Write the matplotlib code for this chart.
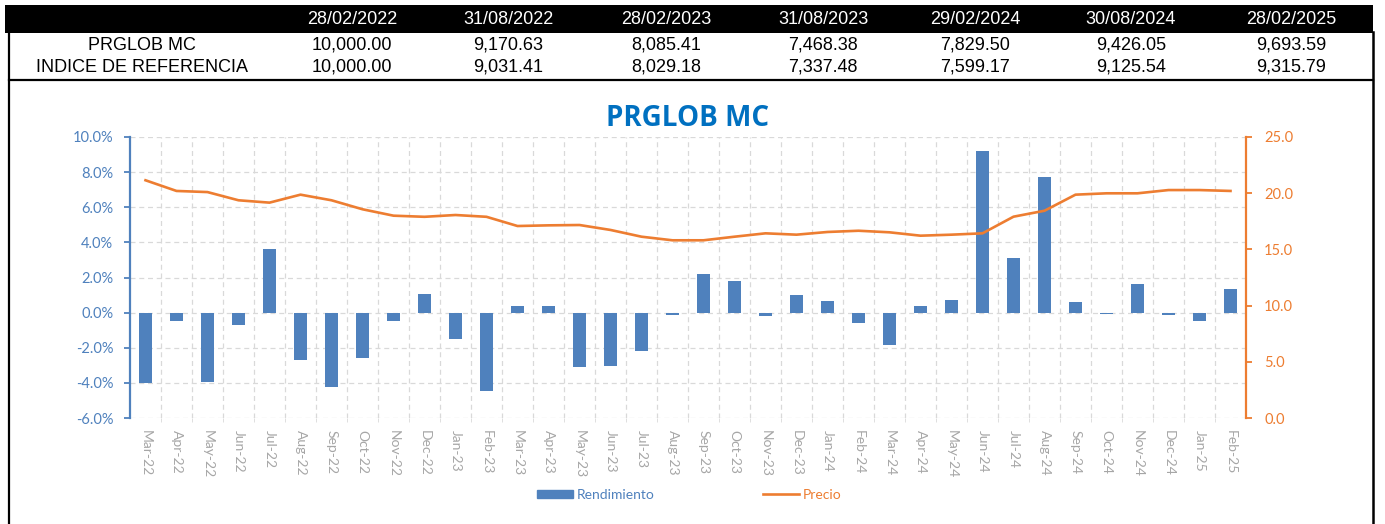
import numpy as np
import matplotlib
matplotlib.use("Agg")
import matplotlib.pyplot as plt
from matplotlib import font_manager
from matplotlib.patches import Rectangle, Patch
from matplotlib.lines import Line2D
from matplotlib.ticker import FuncFormatter, FixedLocator

# ---------------- data ----------------
table_dates = ["28/02/2022", "31/08/2022", "28/02/2023", "31/08/2023",
               "29/02/2024", "30/08/2024", "28/02/2025"]
table_labels = ["PRGLOB MC", "INDICE DE REFERENCIA"]
prglob_values = ["10,000.00", "9,170.63", "8,085.41", "7,468.38",
                 "7,829.50", "9,426.05", "9,693.59"]
indice_values = ["10,000.00", "9,031.41", "8,029.18", "7,337.48",
                 "7,599.17", "9,125.54", "9,315.79"]

months = ["Mar-22", "Apr-22", "May-22", "Jun-22", "Jul-22", "Aug-22", "Sep-22",
          "Oct-22", "Nov-22", "Dec-22", "Jan-23", "Feb-23", "Mar-23", "Apr-23",
          "May-23", "Jun-23", "Jul-23", "Aug-23", "Sep-23", "Oct-23", "Nov-23",
          "Dec-23", "Jan-24", "Feb-24", "Mar-24", "Apr-24", "May-24", "Jun-24",
          "Jul-24", "Aug-24", "Sep-24", "Oct-24", "Nov-24", "Dec-24", "Jan-25",
          "Feb-25"]
rendimiento = [-4.03, -0.48, -3.97, -0.69, 3.64, -2.68, -4.22, -2.57, -0.48,
               1.04, -1.49, -4.45, 0.40, 0.40, -3.09, -3.02, -2.20, -0.13,
               2.18, 1.78, -0.21, 0.98, 0.64, -0.60, -1.84, 0.40, 0.72, 9.21,
               3.13, 7.73, 0.59, -0.06, 1.65, -0.13, -0.47, 1.36]
precio = [21.15, 20.20, 20.10, 19.37, 19.16, 19.87, 19.37, 18.57, 18.00,
          17.90, 18.06, 17.90, 17.08, 17.14, 17.17, 16.73, 16.13, 15.81,
          15.81, 16.13, 16.43, 16.31, 16.55, 16.66, 16.52, 16.22, 16.31,
          16.43, 17.91, 18.44, 19.87, 19.99, 19.99, 20.28, 20.28, 20.20]

title = "PRGLOB MC"
series_names = ["Rendimiento", "Precio"]

# ---------------- style ----------------
BLUE = "#4F81BD"
ORANGE = "#ED7D31"
TITLE_BLUE = "#0070C0"
GRID = "#D9D9D9"
XLAB = "#A6A6A6"
CHART_FONT = ["Lato", "DejaVu Sans"]

installed = {f.name for f in font_manager.fontManager.ttflist}
if "Liberation Sans Narrow" in installed:
    tfont = dict(family=["Liberation Sans Narrow", "DejaVu Sans"], fontsize=15.5)
else:
    tfont = dict(family=["Liberation Sans", "DejaVu Sans"], fontsize=13)

W, H = 1385, 524
fig = plt.figure(figsize=(W / 100, H / 100), dpi=100)
fig.patch.set_facecolor("white")

# background overlay in pixel coordinates (table + frames)
bg = fig.add_axes([0, 0, 1, 1], zorder=0)
bg.set_xlim(0, W)
bg.set_ylim(H, 0)
bg.axis("off")

# header row
bg.add_patch(Rectangle((5, 5), 1368, 27.5, facecolor="black", edgecolor="black", lw=0))
col_x = [352, 508, 666, 823, 975, 1131, 1291]
label_x = 142
for cx, d in zip(col_x, table_dates):
    bg.text(cx, 20, d, color="white", ha="center", va="center", **tfont)
for ry, lab, vals in zip([45.5, 67.5], table_labels, [prglob_values, indice_values]):
    bg.text(label_x, ry, lab, color="black", ha="center", va="center", **tfont)
    for cx, v in zip(col_x, vals):
        bg.text(cx, ry, v, color="black", ha="center", va="center", **tfont)

# frames
bg.plot([9, 9], [32, H], color="black", lw=1.6)
bg.plot([1373, 1373], [32, H], color="black", lw=1.8)
bg.plot([9, 1373], [79.5, 79.5], color="black", lw=1.6)

# ---------------- chart ----------------
left, right, top, bottom = 130, 1246, 137, 418
ax = fig.add_axes([left / W, 1 - bottom / H, (right - left) / W, (bottom - top) / H], zorder=1)
ax.patch.set_alpha(0)
x = np.arange(len(months))
ax.bar(x, rendimiento, width=0.42, color=BLUE, zorder=2)
ax.set_xlim(-0.5, len(months) - 0.5)
ax.set_ylim(-6, 10)
ax.set_yticks(np.arange(-6, 10.01, 2))
ax.yaxis.set_major_formatter(FuncFormatter(lambda v, p: f"{v:.1f}%"))
ax.set_xticks(x)
ax.set_xticklabels(months, rotation=270, color=XLAB, fontsize=10, family=CHART_FONT)
ax.xaxis.set_minor_locator(FixedLocator(np.arange(0.5, len(months) - 0.5, 1)))
ax.tick_params(axis="x", which="major", length=0, pad=9)
ax.tick_params(axis="x", which="minor", length=3, color=GRID)
ax.tick_params(axis="y", colors=BLUE, labelcolor=BLUE, length=4, width=1.3,
               labelsize=10.5, pad=8)
for lab in ax.get_yticklabels():
    lab.set_family(CHART_FONT)
ax.set_axisbelow(True)
ax.grid(axis="y", which="major", color=GRID, lw=0.9, linestyle=(0, (4, 3)))
ax.grid(axis="x", which="minor", color=GRID, lw=0.9, linestyle=(0, (4, 3)))
for s in ["top", "right", "bottom"]:
    ax.spines[s].set_visible(False)
ax.spines["left"].set_color(BLUE)
ax.spines["left"].set_linewidth(1.6)

ax2 = ax.twinx()
ax2.plot(x, precio, color=ORANGE, lw=1.9, zorder=3)
ax2.set_ylim(0, 25)
ax2.set_yticks(np.arange(0, 25.01, 5))
ax2.yaxis.set_major_formatter(FuncFormatter(lambda v, p: f"{v:.1f}"))
ax2.tick_params(axis="y", colors=ORANGE, labelcolor=ORANGE, length=4, width=1.3,
                labelsize=10.5, pad=9)
for lab in ax2.get_yticklabels():
    lab.set_family(CHART_FONT)
for s in ["top", "left", "bottom"]:
    ax2.spines[s].set_visible(False)
ax2.spines["right"].set_color(ORANGE)
ax2.spines["right"].set_linewidth(1.6)

fig.text((left + right) / 2 / W, 1 - 118 / H, title, ha="center", va="center",
         color=TITLE_BLUE, fontsize=20, fontweight="bold",
         family=["Open Sans", "DejaVu Sans"])

handles = [Patch(facecolor=BLUE, edgecolor=BLUE),
           Line2D([0], [0], color=ORANGE, lw=1.9)]
leg = fig.legend(handles, series_names, loc="center",
                 bbox_to_anchor=(689 / W, 1 - 495 / H), ncol=2, frameon=False,
                 handlelength=2.6, handleheight=0.55, handletextpad=0.25,
                 columnspacing=7.8, prop=dict(family=CHART_FONT, size=10))
for t, c in zip(leg.get_texts(), [BLUE, ORANGE]):
    t.set_color(c)

fig.savefig("out.png", dpi=100, facecolor="white")
